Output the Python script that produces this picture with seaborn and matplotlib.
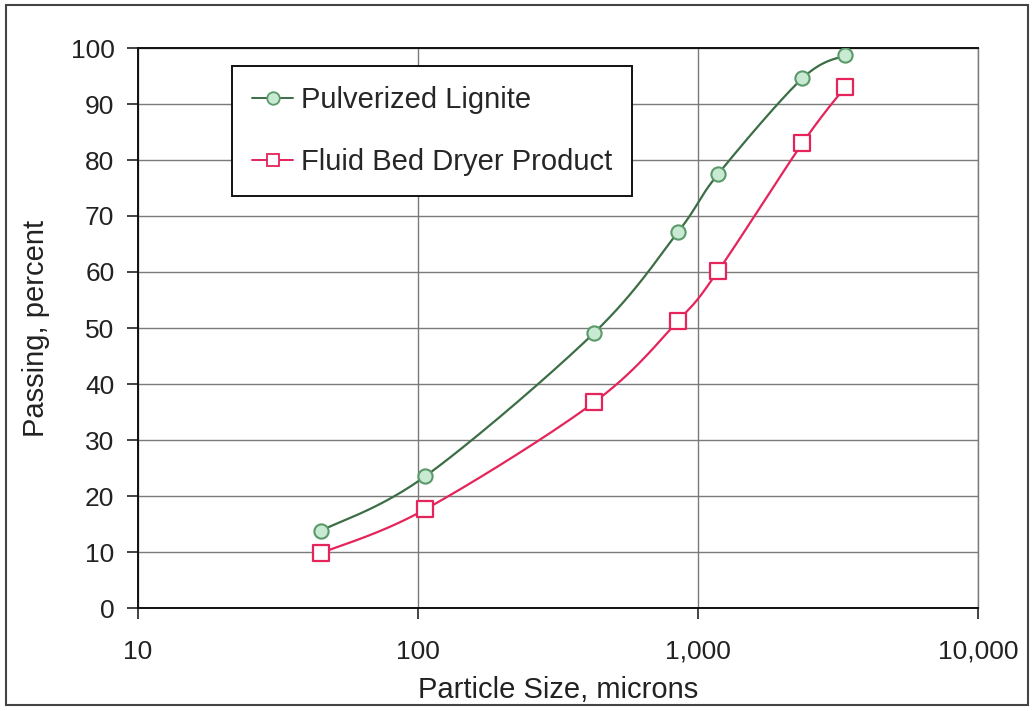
import numpy as np
import pandas as pd
import matplotlib
matplotlib.use("Agg")
import matplotlib.pyplot as plt
from matplotlib.lines import Line2D
from matplotlib.patches import Rectangle
import seaborn as sns

# ---- data ----
sizes = [45, 106, 425, 850, 1180, 2360, 3350]
lignite = [13.8, 23.5, 49.1, 67.2, 77.5, 94.6, 98.7]
dryer = [9.8, 17.6, 36.7, 51.3, 60.2, 83.0, 93.0]
series_names = ["Pulverized Lignite", "Fluid Bed Dryer Product"]
x_ticks = [10, 100, 1000, 10000]
x_tick_labels = ["10", "100", "1,000", "10,000"]
y_ticks = list(range(0, 101, 10))

green_line = "#3c6e46"
green_edge = "#5a9a6a"
green_fill = "#c8ead2"
red_line = "#e4245a"
text_col = "#222222"

sns.set_theme(style="white")
plt.rcParams["font.family"] = ["Liberation Sans", "DejaVu Sans"]


def smooth(xs, ys, n=30):
    # Catmull-Rom curve through the data points in (log10 x, y) space (Excel-style smoothed line)
    lx = np.log10(np.asarray(xs, float))
    yy = np.asarray(ys, float)
    P = np.column_stack([lx, yy])
    P = np.vstack([P[0], P, P[-1]])
    out = []
    for i in range(1, len(P) - 2):
        p0, p1, p2, p3 = P[i - 1], P[i], P[i + 1], P[i + 2]
        t = np.linspace(0, 1, n, endpoint=False)[:, None]
        seg = 0.5 * ((2 * p1) + (-p0 + p2) * t + (2 * p0 - 5 * p1 + 4 * p2 - p3) * t ** 2
                     + (-p0 + 3 * p1 - 3 * p2 + p3) * t ** 3)
        out.append(seg)
    out.append(P[-2][None, :])
    out = np.vstack(out)
    return pd.DataFrame({"x": 10 ** out[:, 0], "y": out[:, 1]})


fig = plt.figure(figsize=(10.34, 7.11), dpi=100)
ax = fig.add_axes([138 / 1034, 1 - 608 / 711, 840 / 1034, 560 / 711])

ax.set_xscale("log")
ax.set_xlim(10, 10000)
ax.set_ylim(0, 100)

# grid
ax.set_yticks(y_ticks)
ax.set_xticks(x_ticks)
ax.set_xticklabels(x_tick_labels)
ax.minorticks_off()
ax.grid(True, which="major", color="#7a7a7a", linewidth=1.0)
ax.set_axisbelow(True)

sL = smooth(sizes, lignite)
sD = smooth(sizes, dryer)
sns.lineplot(data=sL, x="x", y="y", sort=False, ax=ax, color=green_line, linewidth=1.6, zorder=3)
sns.lineplot(data=sD, x="x", y="y", sort=False, ax=ax, color=red_line, linewidth=1.6, zorder=3)

dfL = pd.DataFrame({"x": sizes, "y": lignite})
dfD = pd.DataFrame({"x": sizes, "y": dryer})
sns.scatterplot(data=dfL, x="x", y="y", ax=ax, marker="o", s=105, color=green_fill,
                edgecolor=green_edge, linewidth=1.5, zorder=4)
sns.scatterplot(data=dfD, x="x", y="y", ax=ax, marker="s", s=120, color="white",
                edgecolor=red_line, linewidth=1.6, zorder=4)

ax.set_xlabel("Particle Size, microns", fontsize=21, color=text_col, labelpad=9)
ax.set_ylabel("Passing, percent", fontsize=21, color=text_col, labelpad=15)
ax.tick_params(axis="both", which="major", labelsize=19, colors=text_col,
               length=8, width=1.2, direction="out", left=True, bottom=True)
ax.tick_params(axis="x", pad=15)
ax.tick_params(axis="y", pad=9)

for side in ["left", "bottom", "top"]:
    ax.spines[side].set_visible(True)
    ax.spines[side].set_color("#111111")
    ax.spines[side].set_linewidth(1.4)
ax.spines["right"].set_visible(True)
ax.spines["right"].set_color("#7a7a7a")
ax.spines["right"].set_linewidth(1.0)

handles = [
    Line2D([], [], color=green_line, linewidth=1.4, marker="o", markersize=9,
           markerfacecolor=green_fill, markeredgecolor=green_edge, markeredgewidth=1.3),
    Line2D([], [], color=red_line, linewidth=1.4, marker="s", markersize=9,
           markerfacecolor="white", markeredgecolor=red_line, markeredgewidth=1.3),
]
leg = ax.legend(handles, series_names, loc="upper left", bbox_to_anchor=(0.112, 0.968),
                borderaxespad=0, fontsize=21, frameon=True, fancybox=False,
                edgecolor="#111111", framealpha=1, labelspacing=1.15,
                handlelength=1.4, handletextpad=0.25, borderpad=0.7)
leg.get_frame().set_linewidth(1.4)
leg.set_zorder(10)

# outer figure border
fig.patches.append(Rectangle((6 / 1034, 6 / 711), 1022 / 1034, 700 / 711, transform=fig.transFigure,
                             fill=False, edgecolor="#444444", linewidth=1.5))

fig.savefig("out.png", dpi=100)
